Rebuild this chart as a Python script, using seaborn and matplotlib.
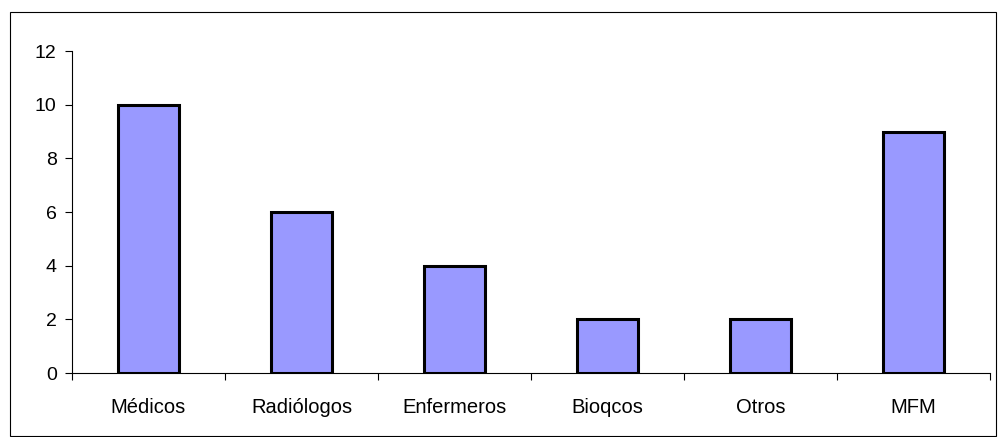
import matplotlib
matplotlib.use("Agg")
import matplotlib.pyplot as plt
from matplotlib.patches import Rectangle
from matplotlib.ticker import FixedLocator, NullFormatter
import seaborn as sns
import pandas as pd

categories = ["Médicos", "Radiólogos", "Enfermeros", "Bioqcos", "Otros", "MFM"]
values = [10, 6, 4, 2, 2, 9]
y_ticks = [0, 2, 4, 6, 8, 10, 12]

sns.set_style("white")
plt.rcParams["font.family"] = ["Liberation Sans", "DejaVu Sans"]
plt.rcParams["text.color"] = "black"
plt.rcParams["xtick.color"] = "black"
plt.rcParams["ytick.color"] = "black"

W, H, DPI = 1001, 437, 100
fig = plt.figure(figsize=(W / DPI, H / DPI), dpi=DPI)
fig.patch.set_facecolor("white")

# Outer frame around the whole chart
fig.patches.append(Rectangle((10 / W, 1 - 436 / H), 986 / W, 424 / H,
                             transform=fig.transFigure, fill=False,
                             edgecolor="black", linewidth=0.8))

x0, x1 = 72, 990
y_top, y_bot = 51, 373
ax = fig.add_axes([x0 / W, 1 - y_bot / H, (x1 - x0) / W, (y_bot - y_top) / H])

df = pd.DataFrame({"cat": categories, "val": values})
sns.barplot(data=df, x="cat", y="val", ax=ax, color="#9999FF",
            saturation=1, width=0.4, edgecolor="black", linewidth=2.2)

ax.set_xlim(-0.5, len(categories) - 0.5)
ax.set_ylim(0, 12)
ax.set_yticks(y_ticks)
ax.set_xlabel("")
ax.set_ylabel("")

# Category tick marks sit between bars; labels are centred under each bar
ax.xaxis.set_major_locator(FixedLocator([i - 0.5 for i in range(len(categories) + 1)]))
ax.xaxis.set_major_formatter(NullFormatter())
ax.xaxis.set_minor_locator(FixedLocator(list(range(len(categories)))))
ax.set_xticklabels(categories, minor=True)
ax.tick_params(axis="x", which="major", direction="out", length=5, width=0.8,
               bottom=True, color="black")
ax.tick_params(axis="x", which="minor", length=0, pad=18, labelsize=14.5,
               labelcolor="black")
ax.tick_params(axis="y", direction="out", length=5, width=0.8, left=True,
               color="black", labelsize=14, pad=6, labelcolor="black")

for side in ["top", "right"]:
    ax.spines[side].set_visible(False)
for side in ["left", "bottom"]:
    ax.spines[side].set_color("black")
    ax.spines[side].set_linewidth(0.8)

fig.savefig("out.png", dpi=DPI)
